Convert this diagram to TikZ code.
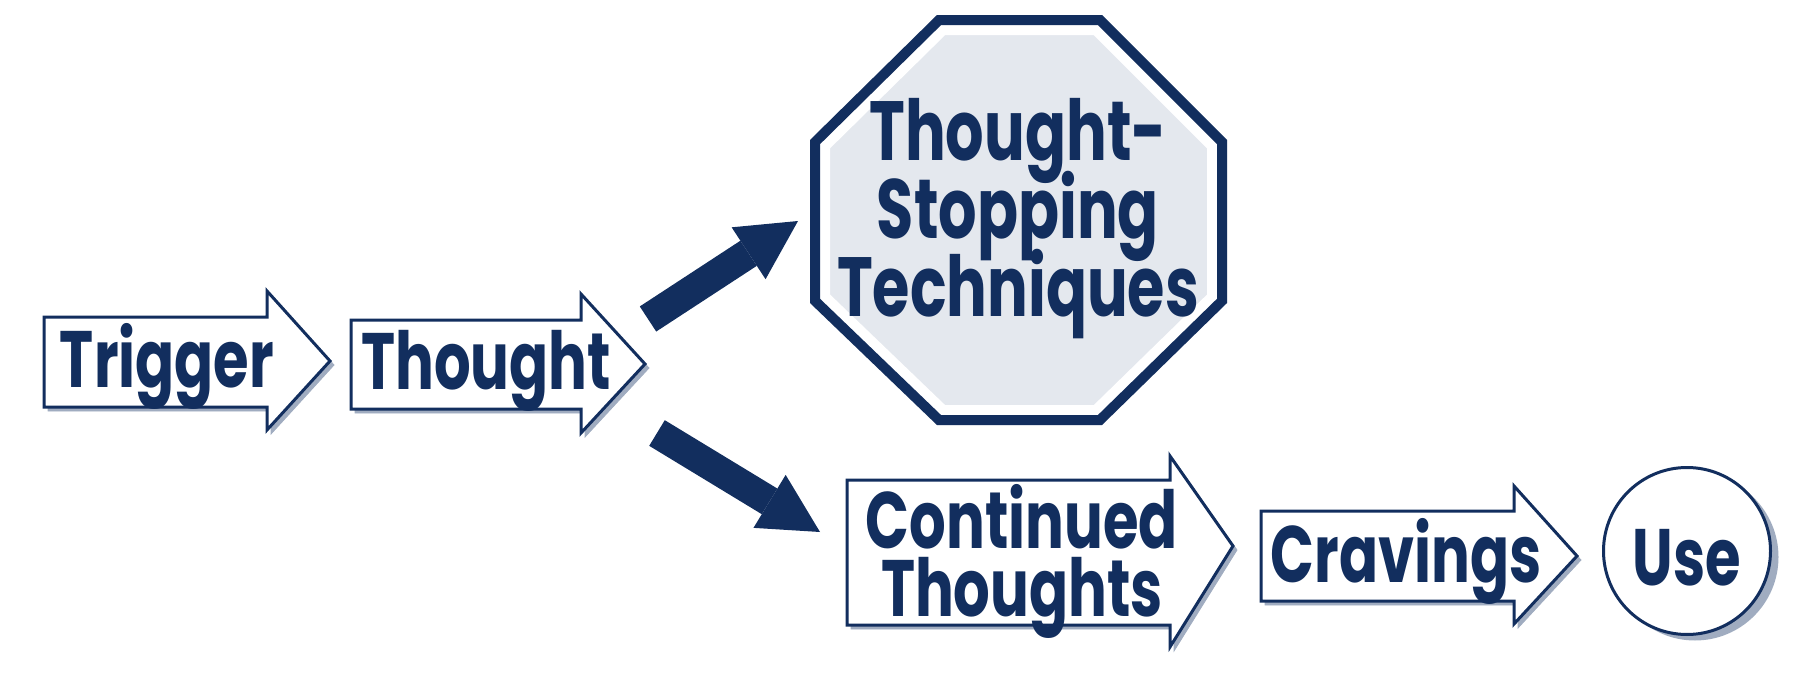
\documentclass[tikz,border=0pt]{standalone}
\usepackage{fontspec}
\newfontfamily\labelfont{Poppins}[UprightFont=* Bold, FakeStretch=0.72]
\usetikzlibrary{arrows.meta}
\definecolor{navy}{RGB}{18,46,94}
\definecolor{shade}{RGB}{160,172,192}
\definecolor{stopgray}{RGB}{228,232,238}

\begin{document}
\begin{tikzpicture}[x=0.5pt,y=-0.5pt,
  word/.style={font={\labelfont\fontsize{40}{34}\selectfont\lineskiplimit=-50pt}, text=navy, inner sep=0pt, align=center},
  box/.style={draw=navy, line width=1.5pt, fill=white, line join=miter,
    preaction={draw=shade, fill=shade, transform canvas={shift={(2pt,-2pt)}}}},
  fat/.style={draw=navy, line width=15pt, -{Triangle[length=29.5pt, width=31pt, line width=0pt]}}
]
\useasboundingbox (0,0) rectangle (1801,696);

% arrow boxes
\draw[box] (44,317) -- (267,317) -- (267,291) -- (330,361) -- (267,430) -- (267,407) -- (44,407) -- cycle;
\node[word, anchor=base] (trigger) at (167,387) {Trigger};

\draw[box] (351,320) -- (581,320) -- (581,294) -- (645,364) -- (581,433) -- (581,409) -- (351,409) -- cycle;
\node[word, anchor=base] (thought) at (486,389) {Thought};

\draw[box] (847,480) -- (1170,480) -- (1170,456) -- (1233,546) -- (1170,647) -- (1170,625) -- (847,625) -- cycle;
\node[word, anchor=center] (continued) at (1022,561) {Continued\\Thoughts};

\draw[box] (1261,511) -- (1514,511) -- (1514,486) -- (1577,556) -- (1514,624) -- (1514,601) -- (1261,601) -- cycle;
\node[word, anchor=base] (cravings) at (1406,582) {Cravings};

\node[word, circle, draw=navy, line width=1.5pt, fill=white, minimum size=83.5pt,
  text height=34pt, text depth=0pt,
  preaction={fill=shade, transform canvas={shift={(4pt,-3pt)}}}] (use) at (1687,551) {Use};

% stop sign
\coordinate (s1) at (937,15);
\coordinate (s2) at (1102,15);
\coordinate (s3) at (1227,140);
\coordinate (s4) at (1227,303);
\coordinate (s5) at (1102,425);
\coordinate (s6) at (937,425);
\coordinate (s7) at (810,303);
\coordinate (s8) at (810,140);
\begin{scope}
\clip (s1) -- (s2) -- (s3) -- (s4) -- (s5) -- (s6) -- (s7) -- (s8) -- cycle;
\filldraw[fill=stopgray, draw=white, line width=20pt, line join=miter,
  postaction={draw=navy, line width=10pt}]
  (s1) -- (s2) -- (s3) -- (s4) -- (s5) -- (s6) -- (s7) -- (s8) -- cycle;
\end{scope}
\node[word, font={\labelfont\fontsize{42}{39}\selectfont\lineskiplimit=-50pt}] (stop) at (1018,219) {Thought-\\Stopping\\Techniques};

% fat arrows
\coordinate (upfrom) at (648,319);
\coordinate (upto) at (798,221);
\coordinate (downfrom) at (657,433);
\coordinate (downto) at (820,532);
\draw[fat] (upfrom) -- (upto);
\draw[fat] (downfrom) -- (downto);
\end{tikzpicture}
\end{document}
